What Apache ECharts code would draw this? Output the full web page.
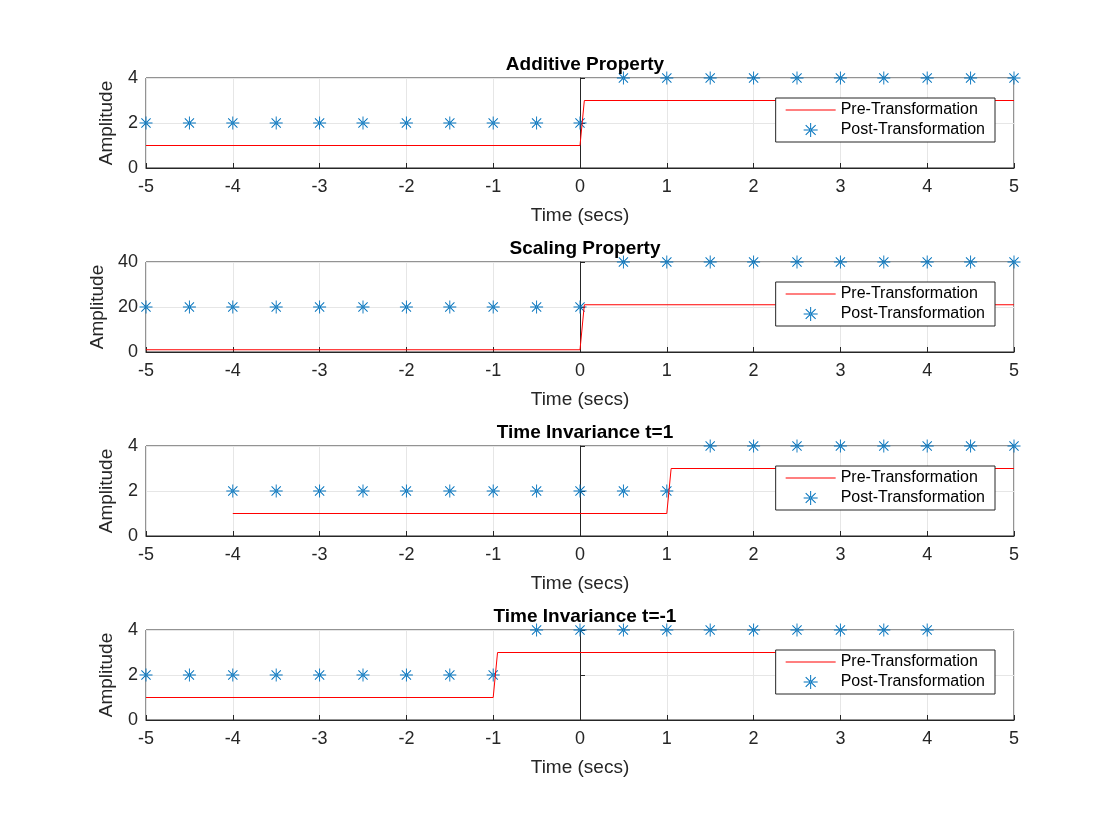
<!DOCTYPE html>
<html>
<head>
<meta charset="UTF-8">
<script src="https://cdn.jsdelivr.net/npm/echarts@6/dist/echarts.min.js"></script>
</head>
<body style="margin:0;background:#fff">
<div id="main" style="width:1120px;height:840px;"></div>
<script type="text/javascript">
var titles = ['Additive Property', 'Scaling Property', 'Time Invariance t=1', 'Time Invariance t=-1'];
var yMax = [4, 40, 4, 4];
var yStep = [2, 20, 2, 2];
// pre-transformation lines [x, y]
var pre1 = [[-5, 1], [0, 1], [0.05, 3], [5, 3]];
var pre2 = [[-5, 1], [0, 1], [0.05, 21], [5, 21]];
var pre3 = [[-4, 1], [1, 1], [1.05, 3], [5, 3]];
var pre4 = [[-5, 1], [-1, 1], [-0.95, 3], [4, 3]];
// post-transformation samples
var post1 = [[-5,2],[-4.5,2],[-4,2],[-3.5,2],[-3,2],[-2.5,2],[-2,2],[-1.5,2],[-1,2],[-0.5,2],[0,2],[0.5,4],[1,4],[1.5,4],[2,4],[2.5,4],[3,4],[3.5,4],[4,4],[4.5,4],[5,4]];
var post2 = [[-5,20],[-4.5,20],[-4,20],[-3.5,20],[-3,20],[-2.5,20],[-2,20],[-1.5,20],[-1,20],[-0.5,20],[0,20],[0.5,40],[1,40],[1.5,40],[2,40],[2.5,40],[3,40],[3.5,40],[4,40],[4.5,40],[5,40]];
var post3 = [[-4,2],[-3.5,2],[-3,2],[-2.5,2],[-2,2],[-1.5,2],[-1,2],[-0.5,2],[0,2],[0.5,2],[1,2],[1.5,4],[2,4],[2.5,4],[3,4],[3.5,4],[4,4],[4.5,4],[5,4]];
var post4 = [[-5,2],[-4.5,2],[-4,2],[-3.5,2],[-3,2],[-2.5,2],[-2,2],[-1.5,2],[-1,2],[-0.5,4],[0,4],[0.5,4],[1,4],[1.5,4],[2,4],[2.5,4],[3,4],[3.5,4],[4,4]];
var pres = [pre1, pre2, pre3, pre4];
var posts = [post1, post2, post3, post4];

var star = 'path://M-0.7,-10 L0.7,-10 L0.7,10 L-0.7,10 Z M-10,-0.7 L-10,0.7 L10,0.7 L10,-0.7 Z ' +
  'M-7.6,-6.6 L6.6,7.6 L7.6,6.6 L-6.6,-7.6 Z M-7.6,6.6 L-6.6,7.6 L7.6,-6.6 L6.6,-7.6 Z';
var tops = [78, 262, 446, 630];
var txt = '#262626';

var option = { animation: false, title: [], grid: [], xAxis: [], yAxis: [], series: [], legend: [] };
for (var i = 0; i < 4; i++) {
  option.title.push({ text: titles[i], left: 580, top: tops[i] - 28, textAlign: 'center',
    textStyle: { fontSize: 19, fontWeight: 'bold', color: '#000', fontFamily: 'Liberation Sans' } });
  option.grid.push({ left: 146, width: 868, top: tops[i], height: 90, show: true, borderColor: txt, borderWidth: 1 });
  option.xAxis.push({ type: 'value', gridIndex: i, min: -5, max: 5, interval: 1,
    name: 'Time (secs)', nameLocation: 'middle', nameGap: 38,
    nameTextStyle: { fontSize: 19, color: txt, fontFamily: 'Liberation Sans' },
    axisLine: { lineStyle: { color: txt } }, axisTick: { inside: true, lineStyle: { color: txt } },
    axisLabel: { fontSize: 18, color: txt, margin: 10, fontFamily: 'Liberation Sans' },
    splitLine: { lineStyle: { color: '#e6e6e6' } } });
  option.yAxis.push({ type: 'value', gridIndex: i, min: 0, max: yMax[i], interval: yStep[i],
    name: 'Amplitude', nameLocation: 'middle', nameGap: yMax[i] > 9 ? 38 : 30,
    nameTextStyle: { fontSize: 19, color: txt, fontFamily: 'Liberation Sans' },
    axisLine: { lineStyle: { color: txt } }, axisTick: { inside: true, lineStyle: { color: txt } },
    axisLabel: { fontSize: 18, color: txt, margin: 8, fontFamily: 'Liberation Sans' },
    splitLine: { lineStyle: { color: '#e6e6e6' } } });
  option.series.push({ name: 'Pre-Transformation', type: 'line', xAxisIndex: i, yAxisIndex: i,
    data: pres[i], showSymbol: false, lineStyle: { color: '#ff0000', width: 1 }, itemStyle: { color: '#ff0000' } });
  option.series.push({ name: 'Post-Transformation', type: 'scatter', xAxisIndex: i, yAxisIndex: i,
    data: posts[i], symbol: star, symbolSize: 13, itemStyle: { color: '#0072bd', opacity: 1 } });
  option.legend.push({ orient: 'vertical', right: 125, top: tops[i] + 20, width: 250,
    backgroundColor: '#fff', borderColor: txt, borderWidth: 1, padding: [4, 10, 4, 10], itemGap: 4,
    itemWidth: 50, itemHeight: 14,
    textStyle: { fontSize: 16, color: '#000', fontFamily: 'Liberation Sans' },
    data: [{ name: 'Pre-Transformation', icon: 'path://M0,6.5 L50,6.5 L50,7.5 L0,7.5 Z', itemStyle: { color: '#ff0000' } },
           { name: 'Post-Transformation', icon: star, itemStyle: { color: '#0072bd' } }] });
}
echarts.init(document.getElementById('main')).setOption(option);
</script>
</body>
</html>
